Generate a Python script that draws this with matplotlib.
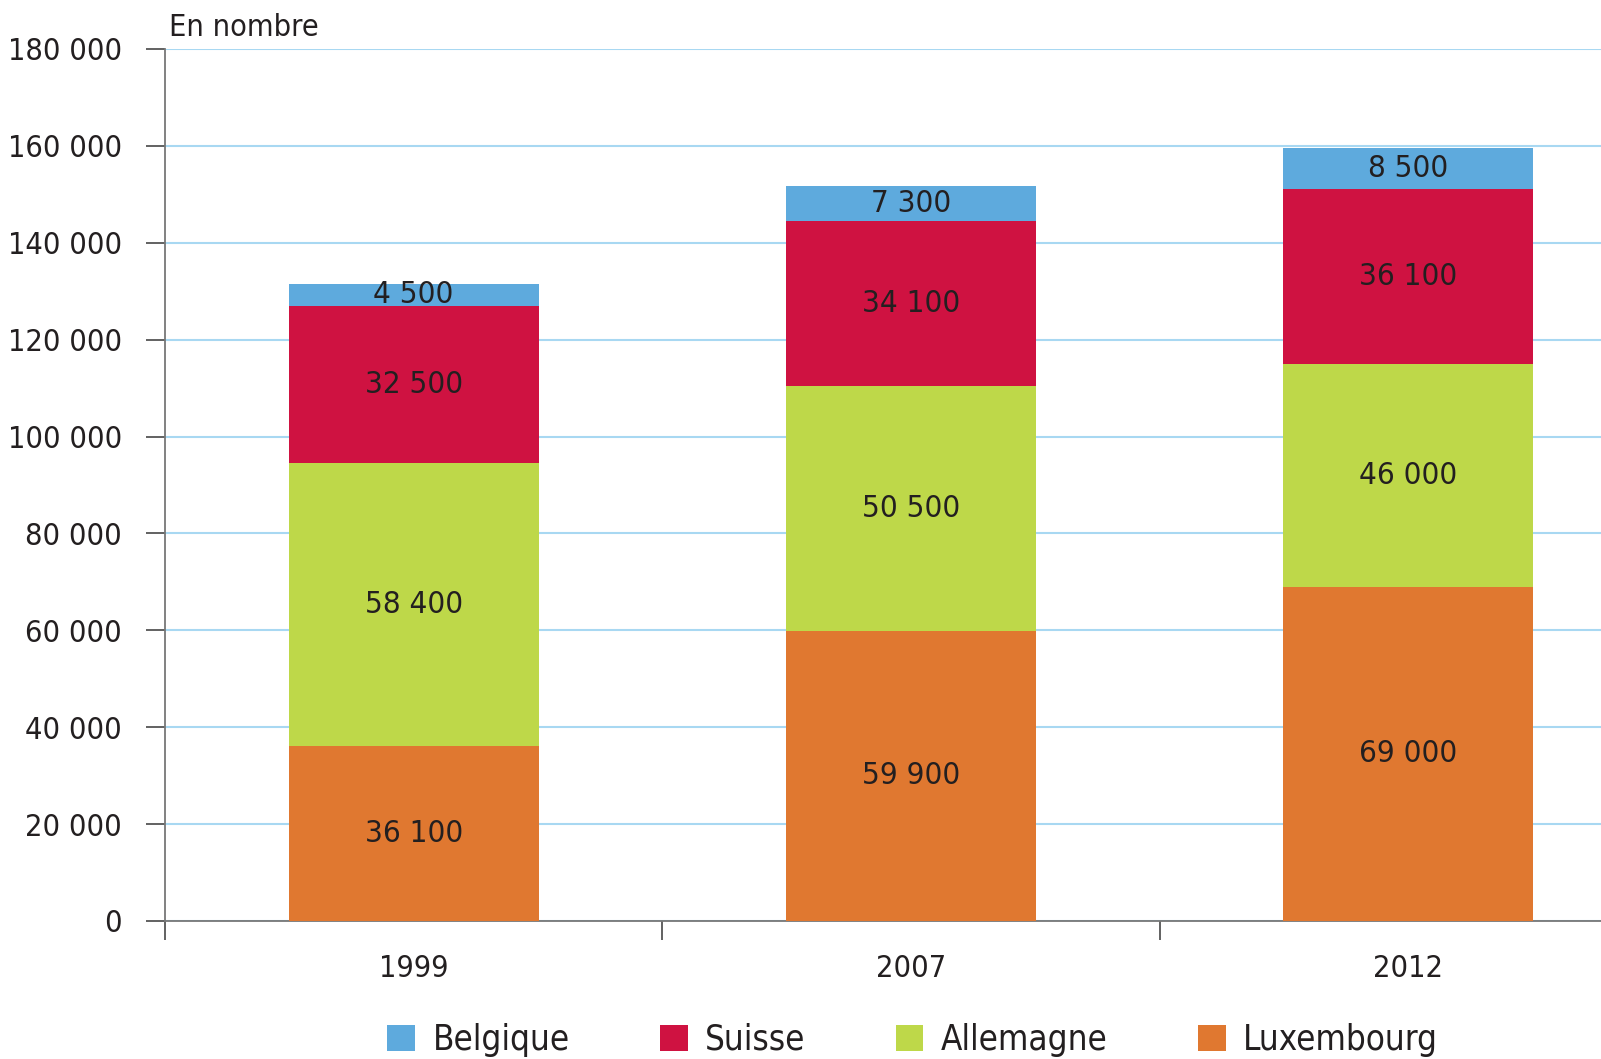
import numpy as np
import matplotlib.pyplot as plt
from matplotlib.ticker import FuncFormatter, FixedLocator

plt.rcParams['font.family'] = ['DejaVu Sans']
plt.rcParams['font.stretch'] = 'condensed'

years = ['1999', '2007', '2012']
series = ['Luxembourg', 'Allemagne', 'Suisse', 'Belgique']
luxembourg = [36100, 59900, 69000]
allemagne = [58400, 50500, 46000]
suisse = [32500, 34100, 36100]
belgique = [4500, 7300, 8500]
colors = ['#e07830', '#bed849', '#cf1241', '#5eaadd']

txt = '#231f20'

fig = plt.figure(figsize=(16.01, 10.59), dpi=100)
ax = fig.add_axes([165 / 1601, 138 / 1059, 1492 / 1601, 872 / 1059])

x = np.arange(len(years))
bottom = np.zeros(len(years))
handles = {}
for name, vals, c in zip(series, [luxembourg, allemagne, suisse, belgique], colors):
    vals = np.array(vals, dtype=float)
    b = ax.bar(x, vals, bottom=bottom, width=0.503, color=c, zorder=3, linewidth=0)
    handles[name] = b
    for xi, v, b0 in zip(x, vals, bottom):
        lab = f'{int(v):,}'.replace(',', ' ')
        ax.text(xi, b0 + v / 2, lab, ha='center', va='center', fontsize=22.5,
                color=txt, zorder=4)
    bottom += vals

ax.set_xlim(-0.5, 2.5)
ax.set_ylim(0, 180000)
ax.set_yticks(np.arange(0, 180001, 20000))
ax.yaxis.set_major_formatter(FuncFormatter(lambda v, p: f'{int(v):,}'.replace(',', ' ')))
ax.grid(axis='y', color='#a8d8f2', linewidth=1.5, zorder=0)
ax.set_axisbelow(True)

ax.xaxis.set_major_locator(FixedLocator([-0.5, 0.5, 1.5]))
ax.xaxis.set_minor_locator(FixedLocator(x))
ax.set_xticklabels([])
ax.set_xticklabels(years, minor=True)
ax.tick_params(axis='x', which='major', length=14, width=1.3, color='#555555', direction='out')
ax.tick_params(axis='x', which='minor', length=0, pad=24, labelsize=22, labelcolor=txt)
ax.tick_params(axis='y', length=14, width=1.3, color='#555555', pad=17,
               labelsize=22, labelcolor=txt)

for s in ['top', 'right']:
    ax.spines[s].set_visible(False)
for s in ['left', 'bottom']:
    ax.spines[s].set_color('#777777')
    ax.spines[s].set_linewidth(1.3)

ax.text(0.003, 1.008, 'En nombre', transform=ax.transAxes, ha='left', va='bottom',
        fontsize=22, color=txt)

order = ['Belgique', 'Suisse', 'Allemagne', 'Luxembourg']
leg = fig.legend([handles[n] for n in order], order, loc='center', ncol=4,
                 bbox_to_anchor=(0.570, 0.018), frameon=False, fontsize=25,
                 handlelength=0.8, handleheight=0.8, handletextpad=0.5,
                 columnspacing=2.6, labelcolor=txt)

fig.savefig('out.png', dpi=100)
